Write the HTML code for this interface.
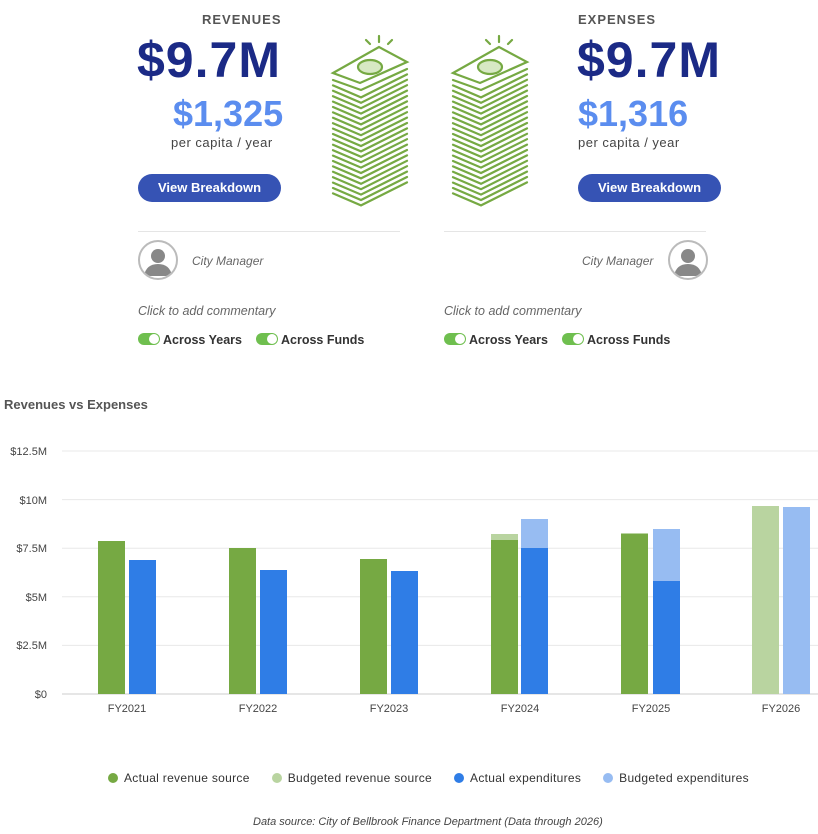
<!DOCTYPE html>
<html><head><meta charset="utf-8"><style>
body{margin:0;width:818px;height:834px;background:#fff;font-family:"Liberation Sans",sans-serif;position:relative;overflow:hidden}
.a{position:absolute;white-space:nowrap}
.lbl{font-size:13px;font-weight:bold;letter-spacing:1px;color:#555}
.big{font-size:50px;font-weight:bold;color:#1b2a86;letter-spacing:1px}
.mid{font-size:36px;font-weight:bold;color:#5b8def}
.pc{font-size:13px;color:#444;letter-spacing:.5px}
.btn{background:#3653b4;color:#fff;font-size:13px;font-weight:bold;border-radius:14px;width:143px;height:28px;line-height:28px;text-align:center}
.it{font-style:italic;font-size:12px;color:#666}
.tg{display:inline-block;width:22px;height:12px;border-radius:7px;background:#6fbf4f;position:relative;vertical-align:-1px;margin-right:3px}
.tg:after{content:"";position:absolute;right:1px;top:1px;width:10px;height:10px;border-radius:50%;background:#fff}
.tgl{font-size:12.5px;font-weight:bold;color:#333}
.av{width:36px;height:36px;border:2px solid #bbb;border-radius:50%;overflow:hidden}
.lg{display:inline-block;width:10px;height:10px;border-radius:50%;margin:0 6px 0 28px;vertical-align:-1px}
</style></head><body>
<div class="a lbl" style="left:202px;top:12px">REVENUES</div>
<div class="a big" style="left:137px;top:31px">$9.7M</div>
<div class="a mid" style="left:173px;top:93px">$1,325</div>
<div class="a pc" style="left:171px;top:135px">per capita / year</div>
<div class="a btn" style="left:138px;top:174px">View Breakdown</div>
<div class="a lbl" style="left:578px;top:12px">EXPENSES</div>
<div class="a big" style="left:577px;top:31px">$9.7M</div>
<div class="a mid" style="left:578px;top:93px">$1,316</div>
<div class="a pc" style="left:578px;top:135px">per capita / year</div>
<div class="a btn" style="left:578px;top:174px">View Breakdown</div>
<div class="a" style="left:138px;top:231px;width:262px;height:1px;background:#e5e5e5"></div>
<div class="a" style="left:444px;top:231px;width:262px;height:1px;background:#e5e5e5"></div>
<div class="a av" style="left:138px;top:240px"><svg width="36" height="36"><circle cx="18" cy="14" r="7" fill="#888"/><path d="M4 34 Q6 22 18 22 Q30 22 32 34Z" fill="#888"/></svg></div>
<div class="a av" style="left:668px;top:240px"><svg width="36" height="36"><circle cx="18" cy="14" r="7" fill="#888"/><path d="M4 34 Q6 22 18 22 Q30 22 32 34Z" fill="#888"/></svg></div>
<div class="a it" style="left:192px;top:254px">City Manager</div>
<div class="a it" style="left:582px;top:254px">City Manager</div>
<div class="a it" style="left:138px;top:304px;font-size:12.5px">Click to add commentary</div>
<div class="a it" style="left:444px;top:304px;font-size:12.5px">Click to add commentary</div>
<div class="a tgl" style="left:138px;top:333px"><span class="tg"></span>Across Years<span class="tg" style="margin-left:14px"></span>Across Funds</div>
<div class="a tgl" style="left:444px;top:333px"><span class="tg"></span>Across Years<span class="tg" style="margin-left:14px"></span>Across Funds</div>
<svg class="a" id="st" style="left:0;top:0" width="818" height="220"></svg>
<div class="a" style="left:4px;top:397px;font-size:13px;font-weight:bold;color:#555">Revenues vs Expenses</div>
<svg class="a" style="left:0;top:440px" width="818" height="300" font-family="Liberation Sans" font-size="11" fill="#444">
<g stroke="#e8e8e8"><line x1="62" x2="818" y1="11" y2="11"/><line x1="62" x2="818" y1="59.6" y2="59.6"/><line x1="62" x2="818" y1="108.2" y2="108.2"/><line x1="62" x2="818" y1="156.8" y2="156.8"/><line x1="62" x2="818" y1="205.4" y2="205.4"/><line x1="62" x2="818" y1="254" y2="254" stroke="#ccc"/></g>
<g text-anchor="end"><text x="47" y="15">$12.5M</text><text x="47" y="64">$10M</text><text x="47" y="112">$7.5M</text><text x="47" y="161">$5M</text><text x="47" y="209">$2.5M</text><text x="47" y="258">$0</text></g>
<g text-anchor="middle"><text x="127" y="272">FY2021</text><text x="258" y="272">FY2022</text><text x="389" y="272">FY2023</text><text x="520" y="272">FY2024</text><text x="651" y="272">FY2025</text><text x="781" y="272">FY2026</text></g>
<g fill="#b9d4a0"><rect x="491" y="94" width="27" height="160"/><rect x="621" y="93" width="27" height="161"/><rect x="752" y="66" width="27" height="188"/></g>
<g fill="#97bcf2"><rect x="521" y="79" width="27" height="175"/><rect x="653" y="89" width="27" height="165"/><rect x="783" y="67" width="27" height="187"/></g>
<g fill="#76a943"><rect x="98" y="101" width="27" height="153"/><rect x="229" y="108" width="27" height="146"/><rect x="360" y="119" width="27" height="135"/><rect x="491" y="100" width="27" height="154"/><rect x="621" y="94" width="27" height="160"/></g>
<g fill="#2f7de6"><rect x="129" y="120" width="27" height="134"/><rect x="260" y="130" width="27" height="124"/><rect x="391" y="131" width="27" height="123"/><rect x="521" y="108" width="27" height="146"/><rect x="653" y="141" width="27" height="113"/></g>
</svg>
<div class="a" style="left:108px;top:771px;font-size:12px;color:#333;letter-spacing:.3px">
<span class="lg" style="background:#76a943;margin-left:0"></span>Actual revenue source<span class="lg" style="background:#b9d4a0;margin-left:22px"></span>Budgeted revenue source<span class="lg" style="background:#2f7de6;margin-left:22px"></span>Actual expenditures<span class="lg" style="background:#97bcf2;margin-left:22px"></span>Budgeted expenditures</div>
<div class="a" style="left:253px;top:816px;font-size:11px;font-style:italic;color:#444">Data source: City of Bellbrook Finance Department (Data through 2026)</div>
<script>
var s='';
[0,120].forEach(function(dx){
 var L=333+dx,T=379+dx,R=407+dx,F=360+dx;
 s+='<g stroke="#76a943" stroke-width="2.2" fill="none" stroke-linecap="round">';
 for(var i=0;i<22;i++){var o=i*5.4+7;s+='<polyline points="'+L+','+(73+o)+' '+(F+1)+','+(83+o+ (i>0?2:0))+' '+R+','+(62+o)+'"/>';}
 s+='<polygon points="'+L+',73 '+T+',47 '+R+',62 '+F+',83" fill="#fff"/>';
 s+='<ellipse cx="'+(370+dx)+'" cy="67" rx="12" ry="7" fill="#d7e8c4"/>';
 s+='<line x1="'+T+'" y1="36" x2="'+T+'" y2="42"/><line x1="'+(T-13)+'" y1="40" x2="'+(T-9)+'" y2="44"/><line x1="'+(T+13)+'" y1="40" x2="'+(T+9)+'" y2="44"/>';
 s+='</g>';
});
document.getElementById('st').innerHTML=s;
</script>
</body></html>
